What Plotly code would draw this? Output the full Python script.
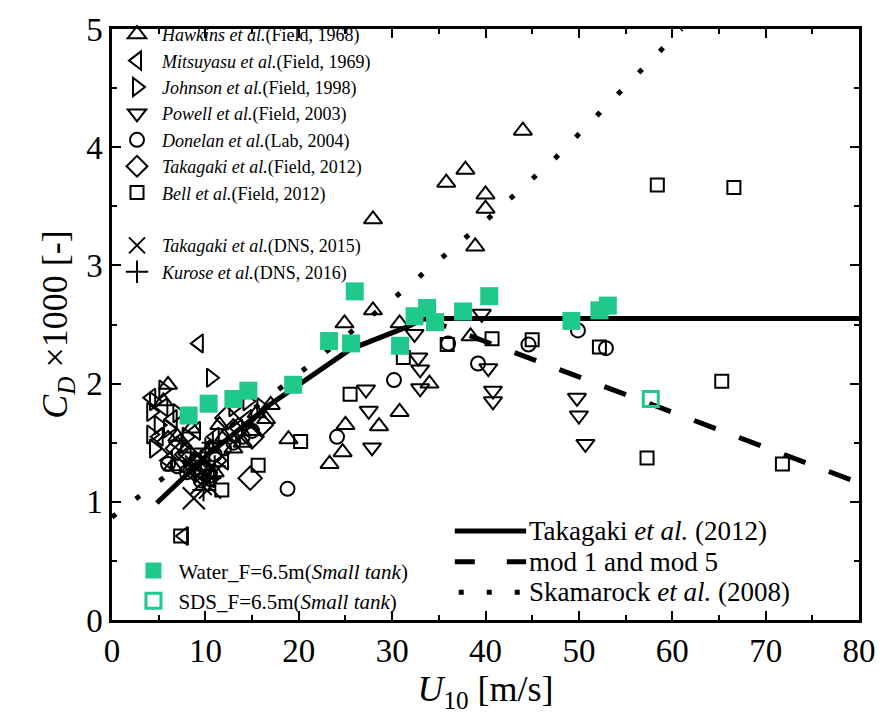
import plotly.graph_objects as go

# ---------------- data ----------------
hawkins_x = [44.0, 37.85, 35.8, 40.0, 40.0, 38.9, 27.95, 27.95, 24.9, 30.8, 30.8, 28.6, 25.0, 18.9, 24.7, 23.3, 34.0, 38.4,
             6.0, 5.5, 7.0, 8.0, 9.0, 10.0, 10.5, 11.0, 12.0, 13.0, 14.0, 15.0, 15.5, 16.5, 17.0, 6.5, 8.5, 11.5]
hawkins_y = [4.14, 3.81, 3.70, 3.60, 3.48, 3.16, 3.39, 2.62, 2.51, 2.51, 1.76, 1.64, 1.65, 1.53, 1.42, 1.32, 2.00, 2.40,
             1.99, 1.85, 1.55, 1.45, 1.35, 1.30, 1.45, 1.25, 1.55, 1.45, 1.50, 1.60, 1.75, 1.70, 1.82, 1.30, 1.62, 1.65]

mitsuyasu_x = [9.3, 7.7, 4.2, 5.5, 6.5, 7.0, 8.0, 9.0, 10.0, 11.0, 12.0, 13.5, 14.5, 6.0, 8.5, 5.0, 10.5]
mitsuyasu_y = [2.34, 0.71, 1.88, 1.80, 1.70, 1.50, 1.40, 1.60, 1.40, 1.55, 1.35, 1.62, 1.70, 1.35, 1.25, 1.55, 1.20]

johnson_x = [10.6, 4.2, 4.2, 4.5, 5.5, 6.0, 7.0, 5.0, 8.0, 4.5, 13.0, 14.5, 16.0]
johnson_y = [2.05, 1.76, 1.57, 1.45, 1.95, 1.62, 1.75, 1.65, 1.55, 1.85, 1.80, 1.85, 1.80]

powell_x = [39.6, 40.3, 40.8, 40.8, 49.8, 50.0, 50.7, 32.4, 32.8, 33.0, 33.0, 27.2, 27.5, 27.85]
powell_y = [2.59, 2.13, 1.94, 1.85, 1.88, 1.73, 1.49, 2.42, 2.22, 2.12, 1.96, 1.95, 1.77, 1.46]

donelan_x = [49.9, 52.9, 44.6, 39.2, 36.0, 30.2, 24.1, 18.8, 7.0, 8.0, 9.0, 10.0, 11.0, 12.0, 13.0, 14.0, 15.0, 6.0, 9.5, 10.5]
donelan_y = [2.45, 2.30, 2.33, 2.17, 2.34, 2.03, 1.55, 1.11, 1.30, 1.25, 1.35, 1.28, 1.40, 1.45, 1.50, 1.55, 1.60, 1.32, 1.18, 1.22]

tak_field_x = [14.8, 12.3, 7.0, 8.0, 9.0, 10.0, 11.0, 13.0, 15.0, 16.0, 6.0]
tak_field_y = [1.20, 1.71, 1.45, 1.40, 1.30, 1.25, 1.35, 1.60, 1.55, 1.65, 1.50]

bell_x = [58.4, 66.6, 65.3, 57.3, 71.8, 52.2, 45.0, 40.7, 35.9, 31.2, 25.5, 20.2, 15.65, 11.76, 7.35]
bell_y = [3.68, 3.66, 2.02, 1.37, 1.32, 2.31, 2.37, 2.38, 2.33, 2.22, 1.91, 1.51, 1.31, 1.10, 0.71]

tak_dns_x = [8.76, 9.5, 10.0, 9.0, 10.5]
tak_dns_y = [1.03, 1.15, 1.25, 1.30, 1.12]

kurose_x = [9.5, 10.0, 10.5, 11.0, 9.8, 10.8]
kurose_y = [1.35, 1.45, 1.20, 1.30, 1.10, 1.50]

water_x = [8.2, 10.35, 13.0, 14.6, 19.4, 23.25, 25.6, 26.0, 30.85, 32.4, 33.75, 34.6, 37.6, 40.4, 49.2, 52.2, 53.1]
water_y = [1.73, 1.83, 1.87, 1.94, 1.99, 2.36, 2.34, 2.78, 2.32, 2.57, 2.64, 2.52, 2.61, 2.74, 2.53, 2.62, 2.66]

sds_x = [57.7]
sds_y = [1.87]

takagaki_line_x = [4.8, 10.0, 16.7, 20.2, 25.5, 31.6, 33.5, 80.0]
takagaki_line_y = [0.99, 1.38, 1.81, 2.00, 2.29, 2.48, 2.55, 2.55]

mod_line_x = [33.5, 80.0]
mod_line_y = [2.55, 1.16]

skam_line_x = [0.0, 18.0, 30.6, 40.2, 47.5, 54.4, 61.0]
skam_line_y = [0.87, 1.96, 2.75, 3.39, 3.91, 4.46, 5.0]

line_legend_names = ["Takagaki <i>et al.</i> (2012)", "mod 1 and mod 5", "Skamarock <i>et al.</i> (2008)"]
line_dashes = ["solid", "20px,32px", "5px,23px"]

FONT = "Liberation Serif, Times New Roman, Times, serif"
GREEN = "#1ec98b"
LW = 5

fig = go.Figure()

fig.add_trace(go.Scatter(x=takagaki_line_x, y=takagaki_line_y, mode="lines", showlegend=False,
                         line=dict(color="black", width=LW), name=line_legend_names[0]))
fig.add_trace(go.Scatter(x=mod_line_x, y=mod_line_y, mode="lines", showlegend=False,
                         line=dict(color="black", width=LW, dash="23px,25px"), name=line_legend_names[1]))
fig.add_trace(go.Scatter(x=skam_line_x, y=skam_line_y, mode="lines", showlegend=False,
                         line=dict(color="black", width=LW, dash="5px,25px"), name=line_legend_names[2]))

def open_trace(x, y, sym, size, name):
    fig.add_trace(go.Scatter(x=x, y=y, mode="markers", name=name, legend="legend",
                             marker=dict(symbol=sym, size=size, color="black",
                                         line=dict(color="black", width=2))))

open_trace(hawkins_x, hawkins_y, "triangle-up-open", 16, "<i>Hawkins et al.</i>(Field, 1968)")
open_trace(mitsuyasu_x, mitsuyasu_y, "triangle-left-open", 16, "<i>Mitsuyasu et al.</i>(Field, 1969)")
open_trace(johnson_x, johnson_y, "triangle-right-open", 16, "<i>Johnson et al.</i>(Field, 1998)")
open_trace(powell_x, powell_y, "triangle-down-open", 16, "<i>Powell et al.</i>(Field, 2003)")
open_trace(donelan_x, donelan_y, "circle-open", 14, "<i>Donelan et al.</i>(Lab, 2004)")
open_trace(tak_field_x, tak_field_y, "diamond-open", 18, "<i>Takagaki et al.</i>(Field, 2012)")
open_trace(bell_x, bell_y, "square-open", 13, "<i>Bell et al.</i>(Field, 2012)")
fig.add_trace(go.Scatter(x=[None], y=[None], mode="markers", name=" ", legend="legend",
                         marker=dict(color="rgba(0,0,0,0)", size=1)))
open_trace(tak_dns_x, tak_dns_y, "x-thin-open", 22, "<i>Takagaki et al.</i>(DNS, 2015)")
open_trace(kurose_x, kurose_y, "cross-thin-open", 16, "<i>Kurose et al.</i>(DNS, 2016)")

fig.add_trace(go.Scatter(x=water_x, y=water_y, mode="markers", legend="legend2",
                         name="Water_F=6.5m(<i>Small tank</i>)",
                         marker=dict(symbol="square", size=18, color=GREEN)))
fig.add_trace(go.Scatter(x=sds_x, y=sds_y, mode="markers", legend="legend2",
                         name="SDS_F=6.5m(<i>Small tank</i>)",
                         marker=dict(symbol="square-open", size=15, color=GREEN,
                                     line=dict(color=GREEN, width=3))))

# line legend (bottom right), built from layout shapes + annotations
PLOT_L, PLOT_R, PLOT_T, PLOT_B = 112, 866, 22, 620
def px_x(p):
    return (p - PLOT_L) / (PLOT_R - PLOT_L)
def px_y(p):
    return (PLOT_B - p) / (PLOT_B - PLOT_T)

row_y = [530, 561, 592]
sample_x = [(458, 530), (458, 530), (462, 530)]
shapes = []
annotations = []
for name, dash, ry, (sx0, sx1) in zip(line_legend_names, line_dashes, row_y, sample_x):
    shapes.append(dict(type="line", xref="paper", yref="paper",
                       x0=px_x(sx0), x1=px_x(sx1), y0=px_y(ry), y1=px_y(ry),
                       line=dict(color="black", width=LW, dash=dash)))
    annotations.append(dict(xref="paper", yref="paper", x=px_x(532), y=px_y(ry),
                            xanchor="left", yanchor="middle", showarrow=False, borderpad=0,
                            text=name, font=dict(family=FONT, size=27, color="black")))

axis_common = dict(showline=True, linecolor="black", linewidth=2.5, mirror="allticks",
                   ticks="inside", ticklen=9, tickwidth=2, tickcolor="black",
                   showgrid=False, zeroline=False,
                   tickfont=dict(family=FONT, size=33, color="black"))

fig.update_layout(
    width=888, height=717,
    margin=dict(l=PLOT_L, r=888 - PLOT_R, t=PLOT_T, b=717 - PLOT_B),
    paper_bgcolor="white", plot_bgcolor="white",
    font=dict(family=FONT, color="black"),
    xaxis=dict(range=[0, 80], dtick=10, tick0=0,
               minor=dict(dtick=5, ticks="inside", ticklen=5, tickwidth=2, tickcolor="black"),
               title=dict(text="<i>U</i><sub>10</sub> [m/s]", font=dict(family=FONT, size=36), standoff=8),
               **axis_common),
    yaxis=dict(range=[0, 5], dtick=1, tick0=0,
               minor=dict(dtick=0.5, ticks="inside", ticklen=5, tickwidth=2, tickcolor="black"),
               title=dict(text="<i>C</i><sub><i>D</i></sub> ×1000 [-]", font=dict(family=FONT, size=36), standoff=8),
               **axis_common),
    legend=dict(x=0.0, y=1.022, xanchor="left", yanchor="top", bgcolor="rgba(0,0,0,0)",
                font=dict(family=FONT, size=18), tracegroupgap=0, itemsizing="trace", itemwidth=40),
    legend2=dict(x=0.022, y=0.118, xanchor="left", yanchor="top", bgcolor="rgba(0,0,0,0)",
                 font=dict(family=FONT, size=21), itemsizing="trace", itemwidth=40),
    shapes=shapes,
    annotations=annotations,
    showlegend=True,
)

fig.write_html("out.html")
